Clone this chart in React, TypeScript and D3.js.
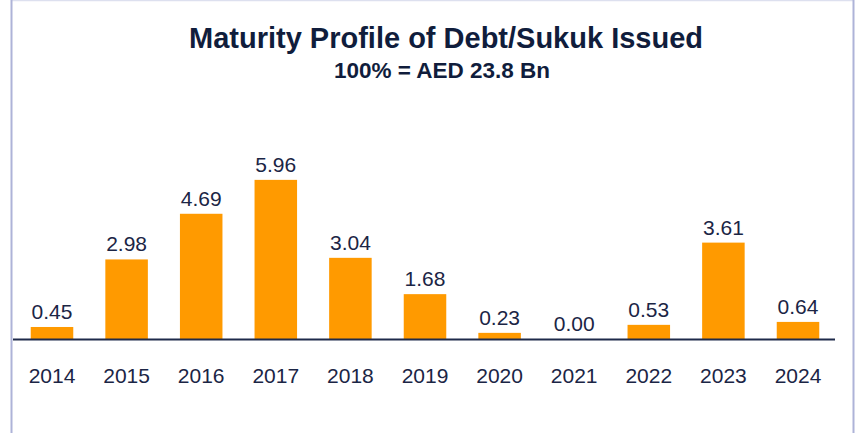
import React, { useEffect, useRef } from 'react';
import * as d3 from 'd3';

// chart data
const years = ['2014', '2015', '2016', '2017', '2018', '2019', '2020', '2021', '2022', '2023', '2024'];
const maturity = [0.45, 2.98, 4.69, 5.96, 3.04, 1.68, 0.23, 0.0, 0.53, 3.61, 0.64];

const titleText = 'Maturity Profile of Debt/Sukuk Issued';
const subtitleText = '100% = AED 23.8 Bn';

export default function App() {
    const ref = useRef<SVGSVGElement>(null);

    useEffect(() => {
        const svgWidth = 856, svgHeight = 433;
        const svg = d3.select(ref.current)
            .attr('width', svgWidth)
            .attr('height', svgHeight);

        svg.selectAll('*').remove();

        const font = '"Liberation Sans", Arial, sans-serif';
        const navy = '#1b2545';

        // frame lines
        svg.append('line')
            .attr('x1', 11).attr('x2', 854).attr('y1', 0.5).attr('y2', 0.5)
            .attr('stroke', '#dde0ef').attr('stroke-width', 1.5);
        svg.append('line')
            .attr('x1', 11.5).attr('x2', 11.5).attr('y1', 0).attr('y2', svgHeight)
            .attr('stroke', '#aeb3d8').attr('stroke-width', 2);
        svg.append('line')
            .attr('x1', 853.5).attr('x2', 853.5).attr('y1', 0).attr('y2', svgHeight)
            .attr('stroke', '#aeb3d8').attr('stroke-width', 2);

        // scales
        const baseY = 339;
        const scaleX = d3.scaleBand<string>()
            .domain(years)
            .range([14.7, 835.3])
            .paddingInner(0.43)
            .paddingOuter(0.215);

        const scaleY = d3.scaleLinear()
            .domain([0, 6])
            .range([baseY, baseY - 160.2]);

        // title
        svg.append('text')
            .attr('x', 446).attr('y', 48)
            .attr('text-anchor', 'middle')
            .attr('font-family', font)
            .attr('font-weight', 'bold')
            .attr('font-size', 29)
            .attr('fill', '#101d3c')
            .text(titleText);

        svg.append('text')
            .attr('x', 442).attr('y', 78)
            .attr('text-anchor', 'middle')
            .attr('font-family', font)
            .attr('font-weight', 'bold')
            .attr('font-size', 22.5)
            .attr('fill', '#101d3c')
            .text(subtitleText);

        const graph = svg.append('g');

        graph.selectAll('rect')
            .data(maturity)
            .enter()
                .append('rect')
                .attr('fill', '#ff9a00')
                .attr('x', (d, i) => scaleX(years[i]) as number)
                .attr('width', scaleX.bandwidth())
                .attr('y', d => scaleY(d))
                .attr('height', d => baseY - scaleY(d));

        // value labels
        graph.selectAll('text.value')
            .data(maturity)
            .enter()
                .append('text')
                .attr('class', 'value')
                .attr('x', (d, i) => (scaleX(years[i]) as number) + scaleX.bandwidth() / 2)
                .attr('y', d => scaleY(d) - 8)
                .attr('text-anchor', 'middle')
                .attr('font-family', font)
                .attr('font-size', 21)
                .attr('fill', navy)
                .text(d => d.toFixed(2));

        // baseline
        svg.append('line')
            .attr('x1', 13).attr('x2', 835)
            .attr('y1', baseY + 0.5).attr('y2', baseY + 0.5)
            .attr('stroke', '#1e2a4a').attr('stroke-width', 2);

        // year labels
        graph.selectAll('text.year')
            .data(years)
            .enter()
                .append('text')
                .attr('class', 'year')
                .attr('x', d => (scaleX(d) as number) + scaleX.bandwidth() / 2)
                .attr('y', 383)
                .attr('text-anchor', 'middle')
                .attr('font-family', font)
                .attr('font-size', 21)
                .attr('fill', navy)
                .text(d => d);
    }, []);

    return (
        <div style={{ position: 'absolute', left: 0, top: 0 }}>
            <svg ref={ref} style={{ display: 'block' }}></svg>
        </div>
    );
}
